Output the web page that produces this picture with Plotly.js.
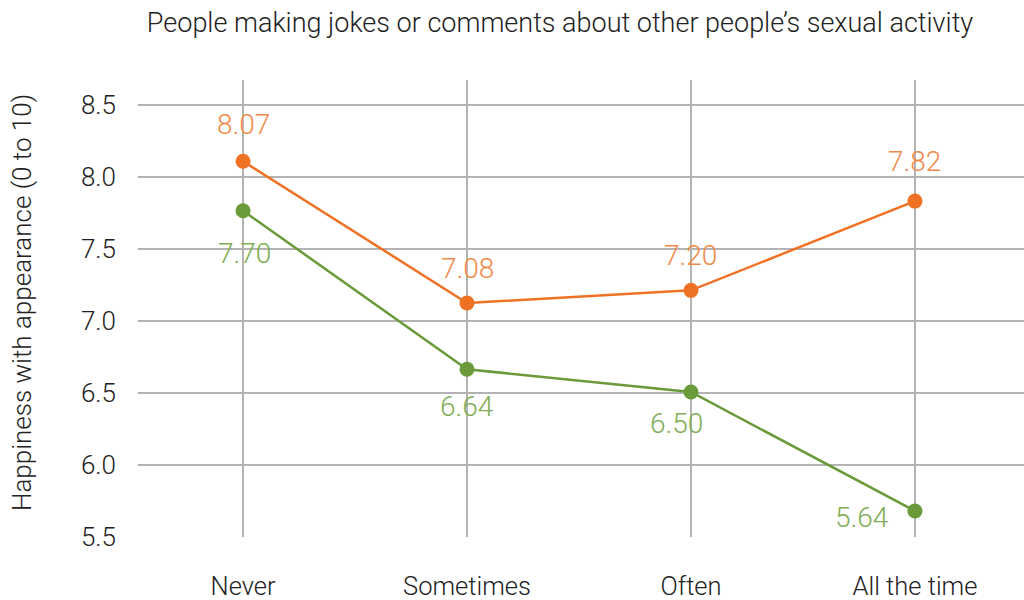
<!DOCTYPE html>
<html>
<head>
<meta charset="utf-8">
<script src="https://cdn.plot.ly/plotly-3.0.1.min.js"></script>
<style>html,body{margin:0;padding:0;background:#fff;}#chart{width:1024px;height:600px;}</style>
</head>
<body>
<div id="chart"></div>
<script>
const categories = ["Never", "Sometimes", "Often", "All the time"];
const orangeValues = [8.11, 7.125, 7.213, 7.833];
const orangeLabels = ["8.07", "7.08", "7.20", "7.82"];
const greenValues = [7.766, 6.665, 6.507, 5.681];
const greenLabels = ["7.70", "6.64", "6.50", "5.64"];
const yTicks = [5.5, 6.0, 6.5, 7.0, 7.5, 8.0, 8.5];
const yTickLabels = ["5.5", "6.0", "6.5", "7.0", "7.5", "8.0", "8.5"];
const titleText = "People making jokes or comments about other people’s sexual activity";
const yTitleText = "Happiness with appearance (0 to 10)";

const FONT = "Roboto, sans-serif";
const W = 300;
const ORANGE = "#ee7124", ORANGE_LBL = "#f08a4c";
const GREEN = "#6a9a3a", GREEN_LBL = "#80ad55";

const orangeShift = [[0, 37], [0, 35], [0, 35], [0, 40]];
const greenShift = [[1, -43], [0, -37], [-14, -31], [-53, -7]];

const traces = [
  {x: categories, y: greenValues, type: "scatter", mode: "lines+markers",
   line: {color: GREEN, width: 2.5}, marker: {color: GREEN, size: 15}, hoverinfo: "none"},
  {x: categories, y: orangeValues, type: "scatter", mode: "lines+markers",
   line: {color: ORANGE, width: 2.5}, marker: {color: ORANGE, size: 15}, hoverinfo: "none"}
];

const annotations = [];
categories.forEach((c, i) => {
  annotations.push({x: c, y: orangeValues[i], xref: "x", yref: "y", text: orangeLabels[i],
    showarrow: false, xshift: orangeShift[i][0], yshift: orangeShift[i][1],
    font: {family: FONT, weight: W, size: 28, color: ORANGE_LBL}});
  annotations.push({x: c, y: greenValues[i], xref: "x", yref: "y", text: greenLabels[i],
    showarrow: false, xshift: greenShift[i][0], yshift: greenShift[i][1],
    font: {family: FONT, weight: W, size: 28, color: GREEN_LBL}});
});
annotations.push({xref: "paper", yref: "paper", x: -138/886, xanchor: "left", xshift: 5,
  y: (537 - 303) / 457, yanchor: "middle", textangle: -90, text: yTitleText, showarrow: false,
  font: {family: FONT, weight: W, size: 26, color: "#222"}});

const layout = {
  width: 1024, height: 600,
  margin: {l: 138, r: 0, t: 80, b: 63},
  paper_bgcolor: "#fff", plot_bgcolor: "#fff",
  showlegend: false,
  title: {text: titleText, x: 560/1024, xanchor: "center", xref: "container",
    y: 1 - 23/600, yanchor: "middle", yref: "container",
    font: {family: FONT, weight: W, size: 27, color: "#222"}},
  xaxis: {type: "category", range: [-0.469, 3.487], showgrid: true, gridcolor: "#b3b3b3", gridwidth: 1.5,
    zeroline: false, showline: false, ticks: "", ticklabelstandoff: 31,
    tickfont: {family: FONT, weight: W, size: 25.5, color: "#222"}},
  yaxis: {range: [5.5, 8.674], tickvals: yTicks, ticktext: yTickLabels, showgrid: true,
    gridcolor: "#b3b3b3", gridwidth: 1.5, zeroline: false, showline: false, ticks: "",
    ticklabelstandoff: 21, tickfont: {family: FONT, weight: W, size: 26, color: "#222"}},
  annotations: annotations
};

Plotly.newPlot("chart", traces, layout, {staticPlot: true});
</script>
</body>
</html>
